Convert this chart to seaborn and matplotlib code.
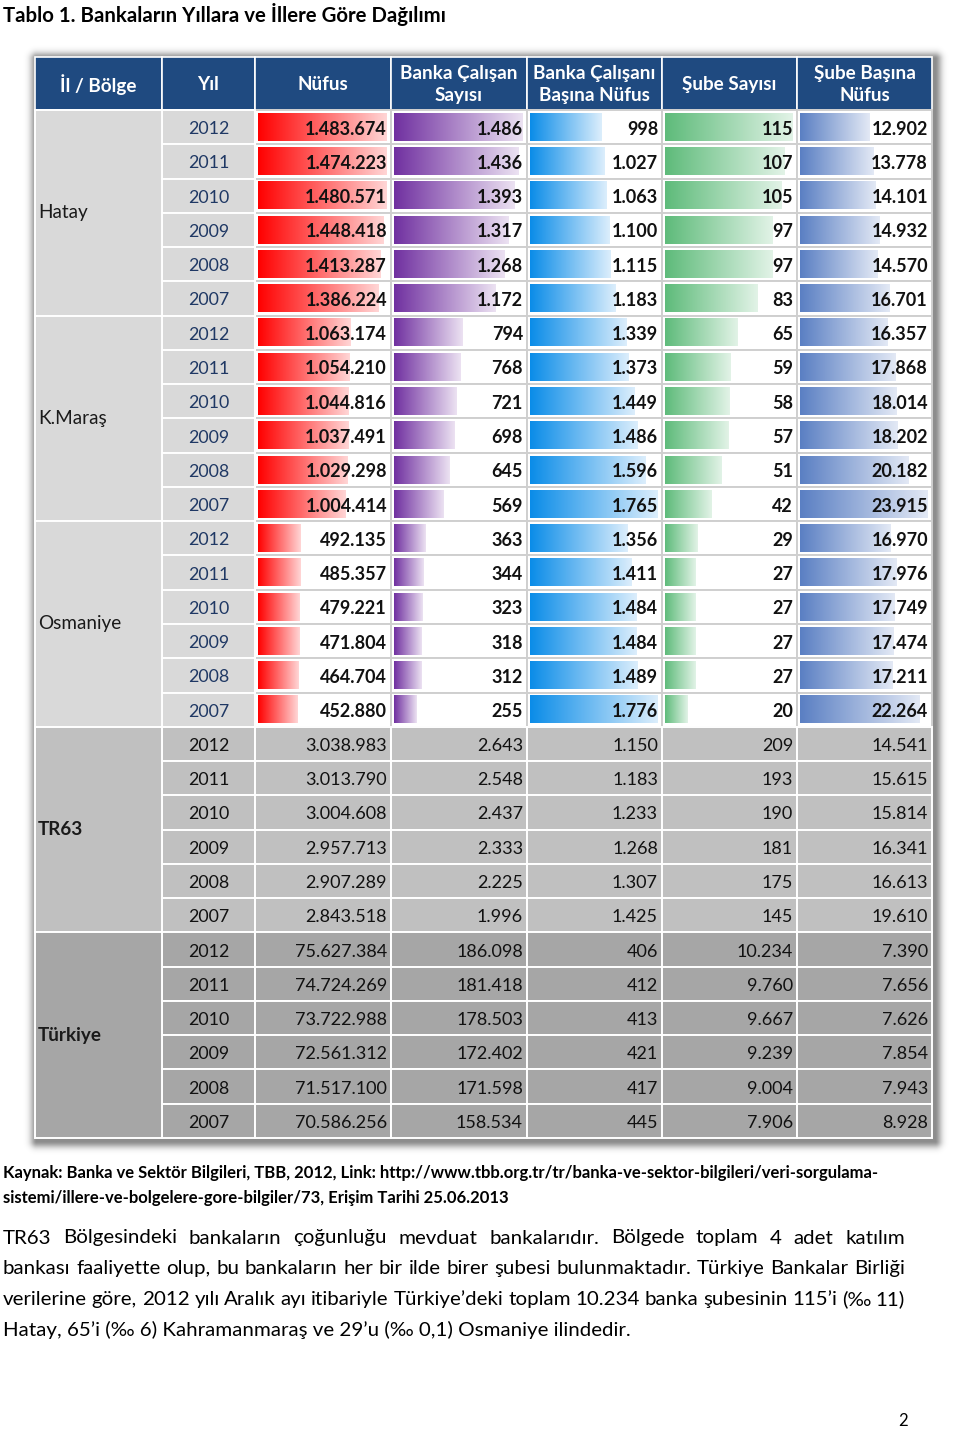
import matplotlib
matplotlib.use('Agg')
import matplotlib.pyplot as plt
import numpy as np
import pandas as pd
import seaborn as sns
from matplotlib.patches import Rectangle
from matplotlib.colors import LinearSegmentedColormap

sns.set_theme(style='white')
plt.rcParams['font.family'] = ['Lato', 'DejaVu Sans']

# Data
regions = ['Hatay', 'K.Maraş', 'Osmaniye', 'TR63', 'Türkiye']
years = [2012, 2011, 2010, 2009, 2008, 2007]
headers = ['İl / Bölge', 'Yıl', 'Nüfus', 'Banka Çalışan\nSayısı',
           'Banka Çalışanı\nBaşına Nüfus', 'Şube Sayısı', 'Şube Başına\nNüfus']

nufus = [1483674, 1474223, 1480571, 1448418, 1413287, 1386224,
         1063174, 1054210, 1044816, 1037491, 1029298, 1004414,
         492135, 485357, 479221, 471804, 464704, 452880,
         3038983, 3013790, 3004608, 2957713, 2907289, 2843518,
         75627384, 74724269, 73722988, 72561312, 71517100, 70586256]
calisan = [1486, 1436, 1393, 1317, 1268, 1172,
           794, 768, 721, 698, 645, 569,
           363, 344, 323, 318, 312, 255,
           2643, 2548, 2437, 2333, 2225, 1996,
           186098, 181418, 178503, 172402, 171598, 158534]
calisan_basina = [998, 1027, 1063, 1100, 1115, 1183,
                  1339, 1373, 1449, 1486, 1596, 1765,
                  1356, 1411, 1484, 1484, 1489, 1776,
                  1150, 1183, 1233, 1268, 1307, 1425,
                  406, 412, 413, 421, 417, 445]
sube = [115, 107, 105, 97, 97, 83,
        65, 59, 58, 57, 51, 42,
        29, 27, 27, 27, 27, 20,
        209, 193, 190, 181, 175, 145,
        10234, 9760, 9667, 9239, 9004, 7906]
sube_basina = [12902, 13778, 14101, 14932, 14570, 16701,
               16357, 17868, 18014, 18202, 20182, 23915,
               16970, 17976, 17749, 17474, 17211, 22264,
               14541, 15615, 15814, 16341, 16613, 19610,
               7390, 7656, 7626, 7854, 7943, 8928]

columns = [nufus, calisan, calisan_basina, sube, sube_basina]
bar_colors = [('#FF0000', '#FFD6D6'), ('#7030A0', '#ECE2F2'), ('#0A8CE8', '#DCEEFC'),
              ('#5EBB7A', '#E2F3E7'), ('#5A7FC3', '#E3E9F5')]

title = 'Tablo 1. Bankaların Yıllara ve İllere Göre Dağılımı'
source = ['Kaynak: Banka ve Sektör Bilgileri, TBB, 2012, Link: http://www.tbb.org.tr/tr/banka-ve-sektor-bilgileri/veri-sorgulama-',
          'sistemi/illere-ve-bolgelere-gore-bilgiler/73, Erişim Tarihi 25.06.2013']
paragraph = ['TR63 Bölgesindeki bankaların çoğunluğu mevduat bankalarıdır. Bölgede toplam 4 adet katılım',
             'bankası faaliyette olup, bu bankaların her bir ilde birer şubesi bulunmaktadır. Türkiye Bankalar Birliği',
             'verilerine göre, 2012 yılı Aralık ayı itibariyle Türkiye’deki toplam 10.234 banka şubesinin 115’i (‰ 11)',
             'Hatay, 65’i (‰ 6) Kahramanmaraş ve 29’u (‰ 0,1) Osmaniye ilindedir.']

# Layout (pixels)
W, H = 960, 1431
col_x = [35, 162, 255, 391, 527, 662, 797, 932]
head_top, row_top, table_bot = 57, 110, 1138
row_h = (table_bot - row_top) / 30
n_bar_rows = 18


def fmt(v):
    return f'{v:,}'.replace(',', '.')


fig = plt.figure(figsize=(W / 100, H / 100), dpi=100)
fig.patch.set_facecolor('white')
bg = fig.add_axes([0, 0, 1, 1])
bg.set_xlim(0, W)
bg.set_ylim(H, 0)
bg.axis('off')

# soft drop shadow behind the table
xx = np.arange(W) + 0.5
yy = np.arange(H) + 0.5
dx = np.maximum(np.maximum(col_x[0] + 2 - xx, xx - col_x[-1] - 3), 0)
dy = np.maximum(np.maximum(head_top + 2 - yy, yy - table_bot - 3), 0)
d = np.sqrt(dx[None, :] ** 2 + dy[:, None] ** 2)
shadow = np.zeros((H, W, 4))
shadow[..., 3] = 0.45 * np.exp(-(d / 6.5) ** 2)
bg.imshow(shadow, extent=(0, W, H, 0), aspect='auto', interpolation='bilinear', zorder=0)
bg.set_xlim(0, W)
bg.set_ylim(H, 0)

# header
for c in range(7):
    bg.add_patch(Rectangle((col_x[c], head_top), col_x[c + 1] - col_x[c], row_top - head_top,
                           facecolor='#1F4A80', edgecolor='white', lw=1.2))

# body cells
for r in range(30):
    g = r // 6
    y = row_top + r * row_h
    for c in range(1, 7):
        if g < 3:
            fc = '#D9D9D9' if c == 1 else 'white'
            ec = 'white' if c == 1 else '#CFCFCF'
        else:
            fc = '#C0C0C0' if g == 3 else '#A6A6A6'
            ec = 'white'
        bg.add_patch(Rectangle((col_x[c], y), col_x[c + 1] - col_x[c], row_h,
                               facecolor=fc, edgecolor=ec, lw=1.4, zorder=2 if ec == 'white' else 1))
for g in range(5):
    fc = '#D9D9D9' if g < 3 else ('#C0C0C0' if g == 3 else '#A6A6A6')
    bg.add_patch(Rectangle((col_x[0], row_top + g * 6 * row_h), col_x[1] - col_x[0], 6 * row_h,
                           facecolor=fc, edgecolor='white', lw=1.4, zorder=2))

# gradient data bars, one seaborn barplot per column
grad = np.linspace(0, 1, 256).reshape(1, -1)
for k, vals in enumerate(columns):
    c = k + 2
    x0, x1 = col_x[c] + 3, col_x[c + 1] - 4
    y0, y1 = row_top, row_top + n_bar_rows * row_h
    bax = fig.add_axes([x0 / W, 1 - y1 / H, (x1 - x0) / W, (y1 - y0) / H])
    df_bar = pd.DataFrame({'row': range(n_bar_rows), 'value': vals[:n_bar_rows]})
    sns.barplot(data=df_bar, x='value', y='row', orient='h', width=0.8,
                color='white', ax=bax, errorbar=None)
    cmap = LinearSegmentedColormap.from_list(f'bar{k}', bar_colors[k])
    for p in bax.patches:
        px, py, pw, ph = p.get_x(), p.get_y(), p.get_width(), p.get_height()
        p.set_facecolor('none')
        p.set_edgecolor('none')
        bax.imshow(grad, extent=(px, px + pw, py + ph, py), aspect='auto',
                   cmap=cmap, interpolation='bilinear')
    bax.set_xlim(0, max(vals[:n_bar_rows]))
    bax.set_ylim(n_bar_rows - 0.5, -0.5)
    bax.axis('off')

# text layer
top = fig.add_axes([0, 0, 1, 1])
top.set_xlim(0, W)
top.set_ylim(H, 0)
top.axis('off')
top.patch.set_alpha(0)

for c, h in enumerate(headers):
    top.text((col_x[c] + col_x[c + 1]) / 2, (head_top + row_top) / 2 + 1, h, color='white',
             fontsize=13.6, fontweight='bold', ha='center', va='center', linespacing=1.4)

for g, name in enumerate(regions):
    top.text(col_x[0] + 3, row_top + (g * 6 + 3) * row_h, name, fontsize=13.6,
             fontweight='bold' if g >= 3 else 'normal', color='#1A1A1A', va='center')

for r in range(30):
    g = r // 6
    yc = row_top + (r + 0.5) * row_h + 2
    top.text((col_x[1] + col_x[2]) / 2, yc, str(years[r % 6]), fontsize=12.8,
             color='#1F3864' if g < 3 else '#111111', ha='center', va='center')
    for k, vals in enumerate(columns):
        c = k + 2
        top.text(col_x[c + 1] - 4, yc, fmt(vals[r]), fontsize=13,
                 fontweight='bold' if g < 3 else 'normal', color='#111111',
                 ha='right', va='center')

renderer = fig.canvas.get_renderer()


def fitted(x, y, s, width, **kw):
    t = top.text(x, y, s, fontsize=10, va='center', **kw)
    w = t.get_window_extent(renderer).width
    t.set_fontsize(10 * width / w)
    return t


fitted(3, 14, title, 442, fontweight='bold', color='black')
src_t = fitted(3, 1173, source[0], 877, fontweight='bold', color='black')
top.text(3, 1198, source[1], fontsize=src_t.get_fontsize(), fontweight='bold',
         color='black', va='center')

# justified paragraph
probe = top.text(0, 0, paragraph[1], fontsize=10)
psize = 10 * 896 / probe.get_window_extent(renderer).width
probe.remove()
for i, line in enumerate(paragraph):
    y = 1238 + i * 30.7
    words = line.split(' ')
    if i == len(paragraph) - 1:
        top.text(3, y, line, fontsize=psize, va='center', color='black')
        continue
    texts = [top.text(0, y, w, fontsize=psize, va='center', color='black') for w in words]
    widths = [t.get_window_extent(renderer).width for t in texts]
    gap = (905 - 3 - sum(widths)) / (len(words) - 1)
    x = 3
    for t, w in zip(texts, widths):
        t.set_x(x)
        x += w + gap

top.text(898, 1421, '2', fontsize=12, va='center', color='black')

fig.savefig('out.png', dpi=100)
